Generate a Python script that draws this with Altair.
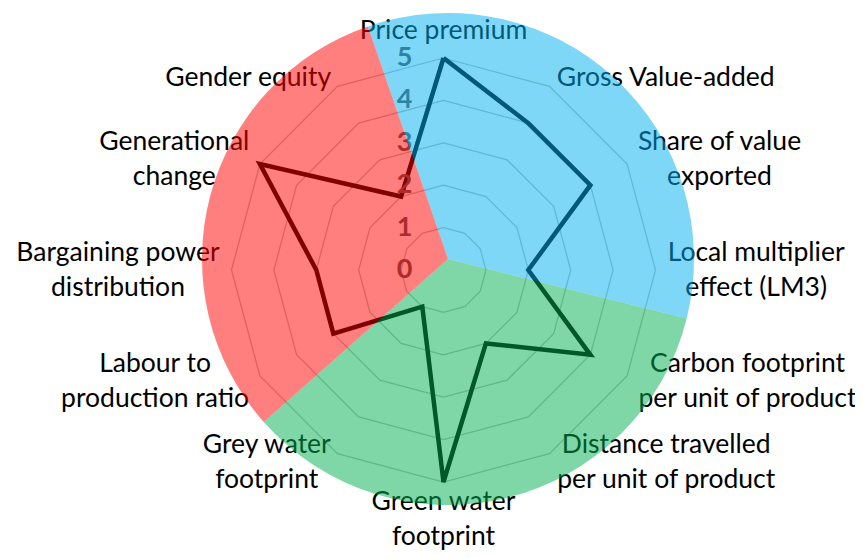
import math
import altair as alt
import pandas as pd

# ---------------- data ----------------
categories = [
    "Price premium",
    "Gross Value-added",
    "Share of value\nexported",
    "Local multiplier\neffect (LM3)",
    "Carbon footprint\nper unit of product",
    "Distance travelled\nper unit of product",
    "Green water\nfootprint",
    "Grey water\nfootprint",
    "Labour to\nproduction ratio",
    "Bargaining power\ndistribution",
    "Generational\nchange",
    "Gender equity",
]
scores = [5, 4, 4, 2, 4, 2, 5, 1, 3, 3, 5, 2]
ring_levels = [1, 2, 3, 4, 5]
tick_labels = ["0", "1", "2", "3", "4", "5"]

sectors = ["Economic", "Environmental", "Social"]
sector_spans_deg = [123.0, 124.5, 112.5]
sector_start_deg = -19.0
sector_colors = ["#00B0F0", "#00B050", "#FF0000"]

# ---------------- geometry helpers ----------------
PX = 42.4            # pixels per score unit
W, H = 847, 543      # drawing area
CX_PX, CY_PX = 435.5, 262.0   # radar centre inside drawing area
xmin, xmax = -CX_PX / PX, (W - CX_PX) / PX
ymin, ymax = -(H - CY_PX) / PX, CY_PX / PX
n = len(categories)
max_v = max(ring_levels)


def ang(i):
    return 2 * math.pi * i / n


# rings
ring_rows = []
for lv in ring_levels:
    for k in range(n + 1):
        a = ang(k % n)
        ring_rows.append({"level": lv, "k": k, "x": lv * math.sin(a), "y": lv * math.cos(a)})
ring_df = pd.DataFrame(ring_rows)

# series polygon
line_rows = []
for k in range(n + 1):
    a = ang(k % n)
    v = scores[k % n]
    line_rows.append({"k": k, "x": v * math.sin(a), "y": v * math.cos(a), "v": v})
line_df = pd.DataFrame(line_rows)

# tick labels
tick_df = pd.DataFrame({"x": [0.0] * len(tick_labels),
                        "y": [float(t) for t in tick_labels],
                        "t": tick_labels})

# approximate text widths (em units) to centre multi-line label blocks
cw = {'a': 479, 'b': 525, 'c': 423, 'd': 525, 'e': 498, 'f': 305, 'g': 471, 'h': 525,
      'i': 229, 'j': 239, 'k': 455, 'l': 229, 'm': 799, 'n': 525, 'o': 527, 'p': 525,
      'q': 525, 'r': 349, 's': 391, 't': 335, 'u': 525, 'v': 452, 'w': 715, 'x': 433,
      'y': 453, 'z': 395, ' ': 226, '(': 303, ')': 303, '-': 306, '3': 507,
      'B': 544, 'C': 533, 'D': 615, 'G': 631, 'L': 420, 'M': 855, 'P': 517, 'S': 459,
      'V': 567}
REF_FS = 29.0
LINE_H = 35.0
BOTTOM_CLEAR = 14.0   # px kept between the last text line's middle and the bottom edge


def text_w_px(s):
    return sum(cw.get(c, 500) for c in s) / 1000.0 * REF_FS


lab_rows = []
r_lab = max_v + 10 / PX
for i, lab in enumerate(categories):
    a = ang(i)
    ax, ay = r_lab * math.sin(a), r_lab * math.cos(a)
    lines = lab.split("\n")
    wpx = max(text_w_px(s) for s in lines)
    hpx = LINE_H * len(lines)
    s = math.sin(a)
    c = math.cos(a)
    if abs(s) > 1e-6:
        cx = ax + math.copysign(wpx / 2, s) / PX
        cy = ay
    else:
        cx = ax
        cy = ay + math.copysign(hpx / 2, c) / PX
    # keep the block inside the drawing area at the bottom
    last_mid = cy - (len(lines) - 1) * LINE_H / 2 / PX
    floor = ymin + BOTTOM_CLEAR / PX
    if last_mid < floor:
        cy += floor - last_mid
    # y of the first line's middle (block is laid out downward from it)
    cy = cy + (len(lines) - 1) * LINE_H / 2 / PX
    lab_rows.append({"x": cx, "y": cy, "label": lab})
lab_df = pd.DataFrame(lab_rows)

# background pie (drawn on top, translucent)
pie_rows = []
t = math.radians(sector_start_deg) + 2 * math.pi
for k, (nm, sp) in enumerate(zip(sectors, sector_spans_deg)):
    t1 = t + math.radians(sp)
    pie_rows.append({"sector": nm, "k": k, "t0": t, "t1": t1,
                     "cx": 4.5 / PX, "cy": 11.0 / PX})
    t = t1
pie_df = pd.DataFrame(pie_rows)

# ---------------- chart ----------------
xs = alt.Scale(domain=[xmin, xmax], nice=False, zero=False)
ys = alt.Scale(domain=[ymin, ymax], nice=False, zero=False)
FONT = "Lato"

rings = alt.Chart(ring_df).mark_line(color="#bfbfbf", strokeWidth=1.25).encode(
    x=alt.X("x:Q", scale=xs, axis=None),
    y=alt.Y("y:Q", scale=ys, axis=None),
    detail="level:N",
    order=alt.Order("k:Q"),
)

series = alt.Chart(line_df).mark_line(color="#000000", strokeWidth=4.5, strokeJoin="miter").encode(
    x=alt.X("x:Q", scale=xs, axis=None),
    y=alt.Y("y:Q", scale=ys, axis=None),
    order=alt.Order("k:Q"),
)

ticks = alt.Chart(tick_df).mark_text(
    align="right", baseline="middle", dx=-31, font=FONT, fontWeight="bold",
    fontSize=27, color="#595959",
).encode(
    x=alt.X("x:Q", scale=xs, axis=None),
    y=alt.Y("y:Q", scale=ys, axis=None),
    text="t:N",
)

labels = alt.Chart(lab_df).mark_text(
    align="center", baseline="middle", lineBreak="\n", lineHeight=LINE_H,
    font=FONT, fontSize=26.5, color="#000000",
).encode(
    x=alt.X("x:Q", scale=xs, axis=None),
    y=alt.Y("y:Q", scale=ys, axis=None),
    text="label:N",
)

pie = alt.Chart(pie_df).mark_arc(opacity=0.5, radius=246).encode(
    x=alt.X("cx:Q", scale=xs, axis=None),
    y=alt.Y("cy:Q", scale=ys, axis=None),
    theta=alt.Theta("t0:Q", scale=None),
    theta2="t1:Q",
    color=alt.Color("sector:N", scale=alt.Scale(domain=sectors, range=sector_colors), legend=None),
)

chart = alt.layer(rings, series, ticks, labels, pie).properties(
    width=W, height=H, padding=0,
    autosize=alt.AutoSizeParams(type="none"),
).configure_view(stroke=None)

chart.save("out.html", embed_options={"renderer": "svg", "actions": False})
